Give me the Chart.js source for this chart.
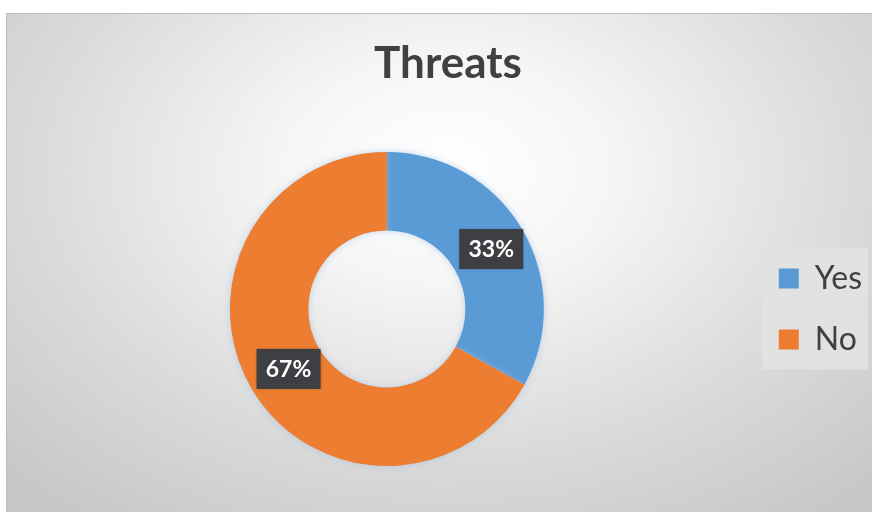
<!DOCTYPE html>
<html>
<head>
<meta charset="utf-8">
<script src="https://cdn.jsdelivr.net/npm/chart.js@4.4.1/dist/chart.umd.min.js"></script>
<style>
  html, body { margin: 0; padding: 0; overflow: hidden; background: #fff; width: 872px; height: 512px; }
  #frame {
    position: absolute; left: 6px; top: 13px; width: 880px; height: 520px;
    border-left: 1px solid #bdbdbd; border-top: 1px solid #bdbdbd;
    background: radial-gradient(ellipse 72% 85% at 50% 30%, #ffffff 0%, #f6f6f6 25%, #dadada 65%, #c6c6c6 100%);
  }
  #threats { position: absolute; left: 0; top: 0; }
</style>
</head>
<body>
<div id="frame"></div>
<canvas id="threats" width="880" height="512"></canvas>
<script>
const labels = ['Yes', 'No'];
const shares = [33, 67];
const colors = ['#5B9BD5', '#ED7D31'];

// soft glow under the ring + dark value boxes on each slice
const ringExtras = {
  id: 'ringExtras',
  beforeDraw(chart) {
    const lg = chart.legend;
    if (!lg || !lg.legendHitBoxes.length) return;
    const hb = lg.legendHitBoxes;
    const ctx = chart.ctx;
    const top = hb[0].top - 15;
    const bottom = hb[hb.length - 1].top + hb[hb.length - 1].height + 14;
    ctx.save();
    ctx.fillStyle = 'rgba(226,226,226,0.9)';
    ctx.fillRect(lg.left + 12, top, lg.width - 16, bottom - top);
    ctx.restore();
  },
  beforeDatasetsDraw(chart) {
    const ctx = chart.ctx;
    ctx.save();
    ctx.shadowColor = 'rgba(150,185,225,0.55)';
    ctx.shadowBlur = 7;
  },
  afterDatasetsDraw(chart) {
    const ctx = chart.ctx;
    ctx.restore();
    const data = chart.data.datasets[0].data;
    const total = data.reduce((a, b) => a + b, 0);
    const arcs = chart.getDatasetMeta(0).data;
    ctx.save();
    ctx.font = 'bold 23px Lato';
    ctx.textAlign = 'center';
    ctx.textBaseline = 'middle';
    arcs.forEach((arc, i) => {
      const p = arc.tooltipPosition();
      const x = p.x + 3;
      const txt = Math.round(data[i] / total * 100) + '%';
      ctx.shadowColor = 'rgba(0,0,0,0.3)';
      ctx.shadowBlur = 3;
      ctx.fillStyle = '#3d3f43';
      ctx.fillRect(x - 32, p.y - 20, 64, 40);
      ctx.shadowColor = 'transparent';
      ctx.fillStyle = '#ffffff';
      ctx.fillText(txt, x, p.y + 1);
    });
    ctx.restore();
  }
};

new Chart(document.getElementById('threats'), {
  type: 'doughnut',
  data: {
    labels: labels,
    datasets: [{
      data: shares,
      backgroundColor: colors,
      borderWidth: 0,
      hoverOffset: 0
    }]
  },
  options: {
    responsive: false,
    animation: false,
    cutout: '50%',
    layout: { padding: { top: 0, left: 24, right: 8, bottom: 46 } },
    plugins: {
      title: {
        display: true,
        text: 'Threats',
        color: '#404040',
        font: { family: 'Lato', size: 44, weight: 'bold', lineHeight: 1.2 },
        padding: { top: 37.6, bottom: 61.6 }
      },
      legend: {
        position: 'right',
        fullSize: false,
        labels: {
          color: '#404040',
          font: { family: 'Lato', size: 32 },
          boxWidth: 20,
          boxHeight: 20,
          padding: 29
        }
      },
      tooltip: { enabled: false }
    }
  },
  plugins: [ringExtras]
});
</script>
</body>
</html>
